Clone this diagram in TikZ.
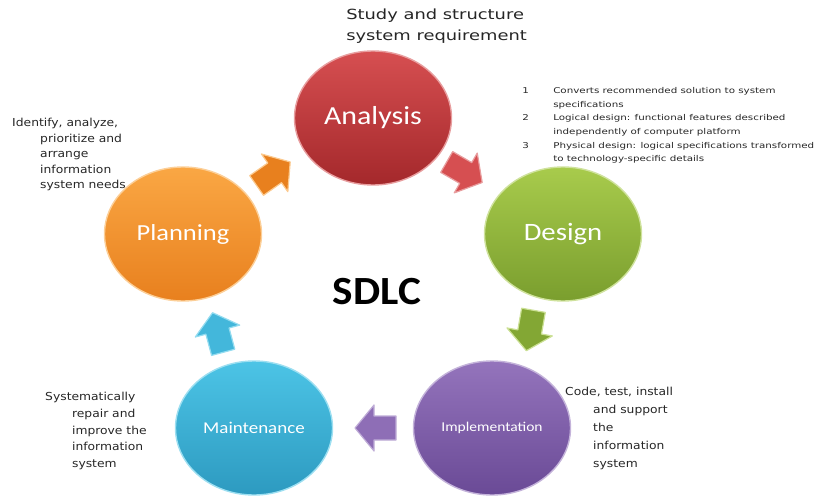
\documentclass[tikz,border=0pt]{standalone}
\usepackage{fontspec}
\usetikzlibrary{shapes.geometric}
\newfontfamily\labfont{Carlito}
\newfontfamily\notefont{DejaVu Sans}
\definecolor{anaT}{HTML}{D64F51}
\definecolor{anaB}{HTML}{A4282B}
\definecolor{desT}{HTML}{A8CB4C}
\definecolor{desB}{HTML}{7A9E2E}
\definecolor{plaT}{HTML}{FAA744}
\definecolor{plaB}{HTML}{E8801E}
\definecolor{maiT}{HTML}{4CC4E6}
\definecolor{maiB}{HTML}{2D9AC0}
\definecolor{impT}{HTML}{9474BC}
\definecolor{impB}{HTML}{6A4A96}
\newcommand\sdlcarrow[5]{%
  \filldraw[fill=#3, draw=#4, line width=1.2pt, line join=round, shift={#1}, rotate=#2]
    (-20pt,-12pt) -- (2pt,-12pt) -- (2pt,-23pt) -- (21pt,0pt) -- (2pt,23pt) -- (2pt,12pt) -- (-20pt,12pt) -- cycle;
  \coordinate (#5) at #1;}
\begin{document}
\begin{tikzpicture}[x=1pt,y=-1pt,
  phase/.style={ellipse, minimum width=157pt, minimum height=134pt, inner sep=0pt, line width=1.4pt, text=white},
  note/.style={inner sep=0pt, align=left, anchor=north west, text=black!85,
    font=\notefont\fontsize{11}{15.5}\selectfont, xscale=1.12},
  lab/.style={font=\labfont}]
\useasboundingbox (0,0) rectangle (816,497);
\clip (0,0) rectangle (816,497);
% phases
\node[phase, top color=anaT, bottom color=anaB, draw=anaT!55!white] (an) at (373,118)
  {\labfont\fontsize{26}{30}\selectfont\scalebox{1.15}[1]{Analysis}};
\node[phase, top color=desT, bottom color=desB, draw=desT!55!white] (de) at (563,234)
  {\labfont\fontsize{25}{30}\selectfont\scalebox{1.15}[1]{Design}};
\node[phase, top color=plaT, bottom color=plaB, draw=plaT!55!white] (pl) at (183,234)
  {\labfont\fontsize{23}{28}\selectfont\scalebox{1.15}[1]{Planning}};
\node[phase, top color=maiT, bottom color=maiB, draw=maiT!55!white] (ma) at (254,428)
  {\labfont\fontsize{16.5}{20}\selectfont\scalebox{1.15}[1]{Maintenance}};
\node[phase, top color=impT, bottom color=impB, draw=impT!55!white] (im) at (492,428)
  {\labfont\fontsize{13.5}{16}\selectfont\scalebox{1.15}[1]{Implementation}};
% arrows
\sdlcarrow{(273,174)}{35}{plaB}{plaT!60!white}{a1}
\sdlcarrow{(464,172)}{-30}{anaT}{anaT!55!white}{a2}
\sdlcarrow{(530,330)}{-100}{desB!80!desT}{desT!60!white}{a3}
\sdlcarrow{(376,428)}{180}{impT!85!impB}{impT!60!white}{a4}
\sdlcarrow{(218,333)}{105}{maiT!70!maiB}{maiT!60!white}{a5}
% title
\node[font=\labfont\bfseries\fontsize{40}{44}\selectfont] (sdlc) at (377,292) {\scalebox{1.08}[1]{SDLC}};
% notes
\node[note, font=\notefont\fontsize{14}{21}\selectfont, xscale=1.14] (nan) at (346,9)
  {Study and structure\\system requirement};
\node[note] (npl) at (12,118)
  {Identify, analyze,\\\hspace*{25pt}prioritize and\\\hspace*{25pt}arrange\\\hspace*{25pt}information\\\hspace*{25pt}system needs};
\node[note, font=\notefont\fontsize{11}{16.8}\selectfont] (nma) at (45,392)
  {Systematically\\\hspace*{24pt}repair and\\\hspace*{24pt}improve the\\\hspace*{24pt}information\\\hspace*{24pt}system};
\node[note, font=\notefont\fontsize{11}{18}\selectfont] (nim) at (565,387)
  {Code, test, install\\\hspace*{25pt}and support\\\hspace*{25pt}the\\\hspace*{25pt}information\\\hspace*{25pt}system};
\node[note, font=\notefont\fontsize{8}{13.6}\selectfont, xscale=1.15] (nde) at (522,84)
  {\begin{tabular}{@{}l@{\hspace{19pt}}l@{}}
   1 & Converts recommended solution to system\\
     & specifications\\
   2 & Logical design: functional features described\\
     & independently of computer platform\\
   3 & Physical design: logical specifications transformed\\
     & to technology-specific details
   \end{tabular}};
\end{tikzpicture}
\end{document}
